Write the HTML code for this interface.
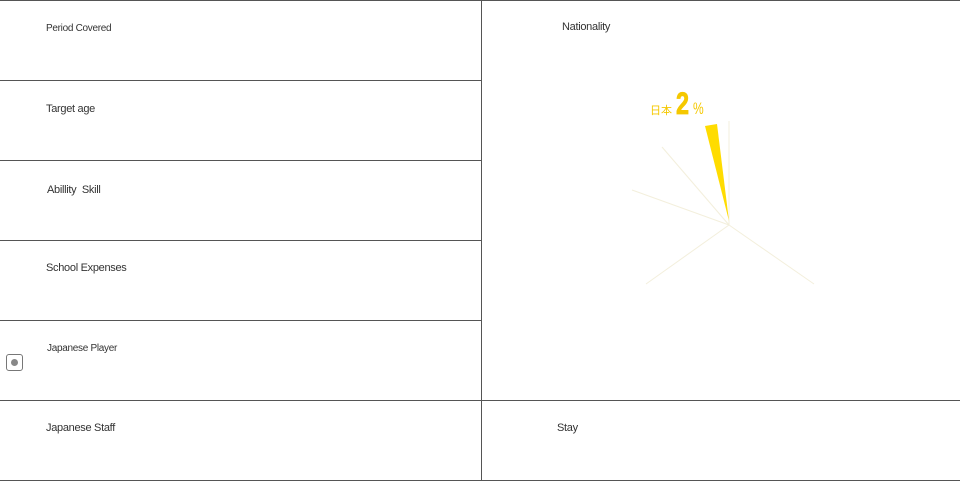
<!DOCTYPE html>
<html><head><style>
body{margin:0;width:960px;height:481px;position:relative;background:#fff;font-family:"Liberation Sans","Noto Sans CJK JP",sans-serif;color:#333;overflow:hidden}
.h{position:absolute;height:1px;background:#555}
.v{position:absolute;width:1px;background:#555}
.t{position:absolute;font-size:11px;letter-spacing:-0.3px}
</style></head><body>
<div class="h" style="left:0;top:0;width:960px"></div>
<div class="h" style="left:0;top:80px;width:481px"></div>
<div class="h" style="left:0;top:160px;width:481px"></div>
<div class="h" style="left:0;top:240px;width:481px"></div>
<div class="h" style="left:0;top:320px;width:481px"></div>
<div class="h" style="left:0;top:400px;width:960px"></div>
<div class="h" style="left:0;top:480px;width:960px"></div>
<div class="v" style="left:481px;top:0;height:481px"></div>
<div class="t" style="left:46px;top:23px;font-size:10px">Period Covered</div>
<div class="t" style="left:46px;top:103px">Target age</div>
<div class="t" style="left:47px;top:184px">Abillity &nbsp;Skill</div>
<div class="t" style="left:46px;top:262px">School Expenses</div>
<div class="t" style="left:47px;top:343px;font-size:10px">Japanese Player</div>
<div class="t" style="left:46px;top:422px">Japanese Staff</div>
<div class="t" style="left:562px;top:21px">Nationality</div>
<div class="t" style="left:557px;top:422px">Stay</div>
<div style="position:absolute;left:6px;top:354px;width:17px;height:17px;border:1px solid #777;border-radius:3px;box-sizing:border-box"></div>
<div style="position:absolute;left:11px;top:359px;width:7px;height:7px;border-radius:50%;background:#888"></div>
<svg style="position:absolute;left:0;top:0" width="960" height="481">
<g stroke="#f3efdc" stroke-width="1">
<line x1="729" y1="225" x2="729" y2="121"/>
<line x1="729" y1="225" x2="662" y2="147"/>
<line x1="729" y1="225" x2="632" y2="190"/>
<line x1="729" y1="225" x2="646" y2="284"/>
<line x1="729" y1="225" x2="814" y2="284"/>
</g>
<polygon points="705,126 717,124 729,221" fill="#ffdc00"/>
<text x="650" y="114" font-size="11" fill="#f5c800" font-family="Noto Sans CJK JP,sans-serif">日本</text>
<text x="0" y="0" font-size="30" font-weight="bold" fill="#f5c800" stroke="#f5c800" stroke-width="0.8" font-family="Liberation Sans,sans-serif" transform="translate(676,114) scale(0.78,1.05)">2</text>
<text x="0" y="0" font-size="15" fill="#f5c800" font-family="Liberation Sans,sans-serif" transform="translate(693,114) scale(0.8,1.1)">%</text>
</svg>
</body></html>
